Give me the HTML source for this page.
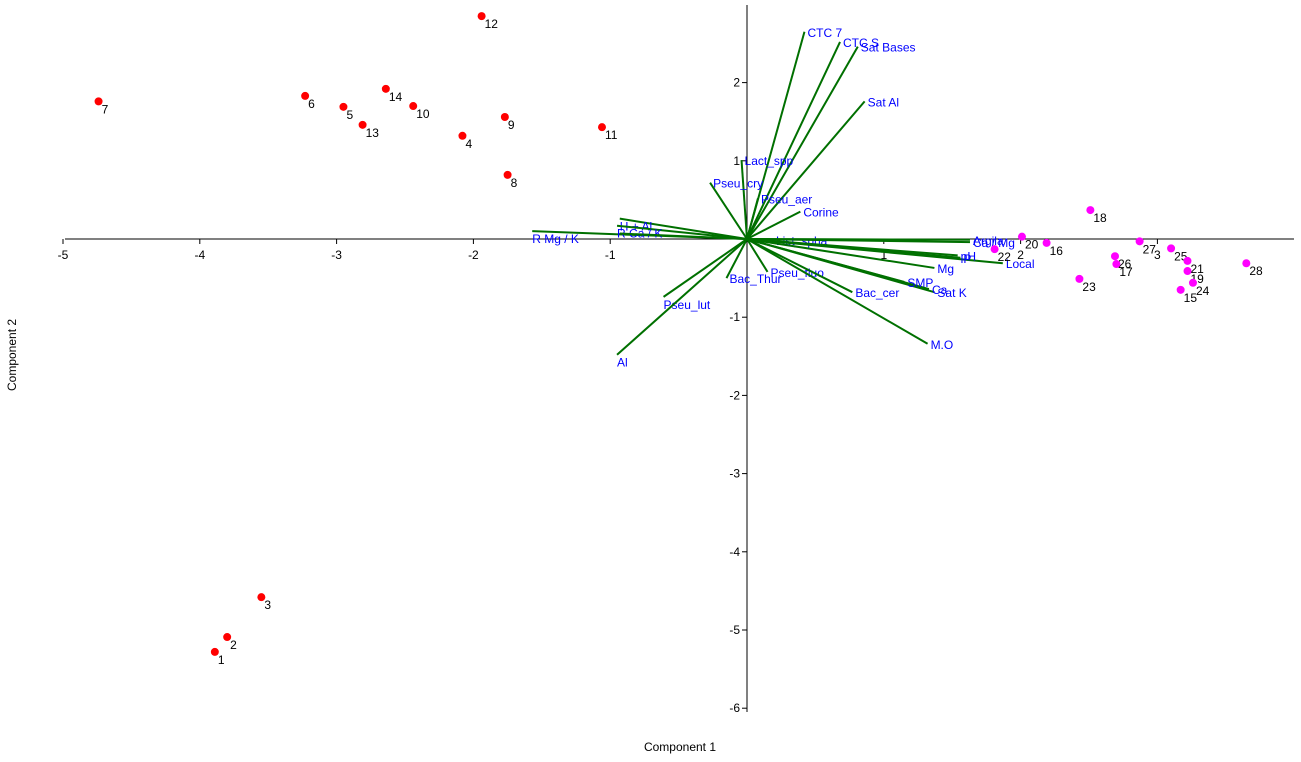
<!DOCTYPE html>
<html><head><meta charset="utf-8"><style>
body{margin:0;background:#fff}
svg{display:block;font-family:"Liberation Sans",sans-serif}
</style></head><body>
<svg id="c" width="1301" height="762">
<g id="axes"></g>
<g id="vecs"></g>
<g id="pts"></g>
<text x="680" y="751" font-size="12" text-anchor="middle">Component 1</text>
<text x="16" y="355" font-size="12" text-anchor="middle" transform="rotate(-90 16 355)">Component 2</text>
</svg>
<script>
const xTicks=[-5,-4,-3,-2,-1,1,2,3];
const yTicks=[2,1,-1,-2,-3,-4,-5,-6];
const redIds=["7","6","5","14","10","13","4","12","9","11","8","3","2","1"];
const redX=[-4.74,-3.23,-2.95,-2.64,-2.44,-2.81,-2.08,-1.94,-1.77,-1.06,-1.75,-3.55,-3.80,-3.89];
const redY=[1.76,1.83,1.69,1.92,1.70,1.46,1.32,2.85,1.56,1.43,0.82,-4.58,-5.09,-5.28];
const magIds=["20","16","22","18","27","25","26","17","21","19","24","15","23","28"];
const magX=[2.01,2.19,1.81,2.51,2.87,3.10,2.69,2.70,3.22,3.22,3.26,3.17,2.43,3.65];
const magY=[0.03,-0.05,-0.13,0.37,-0.03,-0.12,-0.22,-0.32,-0.28,-0.41,-0.56,-0.65,-0.51,-0.31];
const vecNames=["CTC 7","CTC S","Sat Bases","Sat Al","Lact_spp","Pseu_cry","Pseu_aer","Corine","List_spha","Pseu_fluo","Bac_Thur","Pseu_lut","Al","R Mg / K","H + Al","R Ca / K","","Argila","Ca / Mg","Local","P","pH","Mg","Sat K","Ca","SMP","Bac_cer","M.O"];
const vecX=[0.42,0.68,0.81,0.86,-0.04,-0.27,0.08,0.39,0.19,0.15,-0.15,-0.61,-0.95,-1.57,-0.93,-0.95,-0.93,1.63,1.63,1.87,1.56,1.54,1.37,1.37,1.33,1.15,0.77,1.32];
const vecY=[2.65,2.52,2.46,1.76,1.01,0.72,0.52,0.35,-0.01,-0.42,-0.50,-0.74,-1.48,0.10,0.26,0.17,0.07,-0.01,-0.04,-0.31,-0.24,-0.21,-0.37,-0.68,-0.64,-0.55,-0.68,-1.34];
const X=v=>747+v*136.8, Y=v=>239-v*78.2;
const NS="http://www.w3.org/2000/svg";
function mk(p,t,a){const e=document.createElementNS(NS,t);for(const k in a)e.setAttribute(k,a[k]);p.appendChild(e);return e;}
const ax=document.getElementById('axes');
let l=mk(ax,'line',{x1:65,y1:239,x2:1294,y2:239,stroke:'#000'});


l=mk(ax,'line',{x1:747,y1:5,x2:747,y2:712,stroke:'#000'});


xTicks.forEach(t=>{mk(ax,'line',{x1:X(t),y1:239,x2:X(t),y2:244,stroke:'#000'});
 const e=mk(ax,'text',{x:X(t),y:259,'font-size':12,'text-anchor':'middle'});e.textContent=t;
 
 });
yTicks.forEach(t=>{mk(ax,'line',{x1:742,y1:Y(t),x2:747,y2:Y(t),stroke:'#000'});
 const e=mk(ax,'text',{x:740,y:Y(t)+4,'font-size':12,'text-anchor':'end'});e.textContent=t;
 
 });
const vg=document.getElementById('vecs');
vecNames.forEach((n,i)=>{
 const ln=mk(vg,'line',{x1:747,y1:239,x2:X(vecX[i]),y2:Y(vecY[i]),stroke:'#007000','stroke-width':2});
 
 
 if(n){const left=vecX[i]<-0.5;
  const t=mk(vg,'text',{x:X(vecX[i])+(left?0:3),y:Y(vecY[i])+(left?12:5),'font-size':12,fill:'#0000ff'});t.textContent=n;
  
  }
});
const pg=document.getElementById('pts');
function pts(ids,xs,ys,col){ids.forEach((id,i)=>{
 const c=mk(pg,'circle',{cx:X(xs[i]),cy:Y(ys[i]),r:4,fill:col});
 
 
 const t=mk(pg,'text',{x:X(xs[i])+3,y:Y(ys[i])+12,'font-size':12});t.textContent=id;
 
 });}
pts(redIds,redX,redY,'#ff0000');
pts(magIds,magX,magY,'#ff00ff');
</script>
</body></html>
